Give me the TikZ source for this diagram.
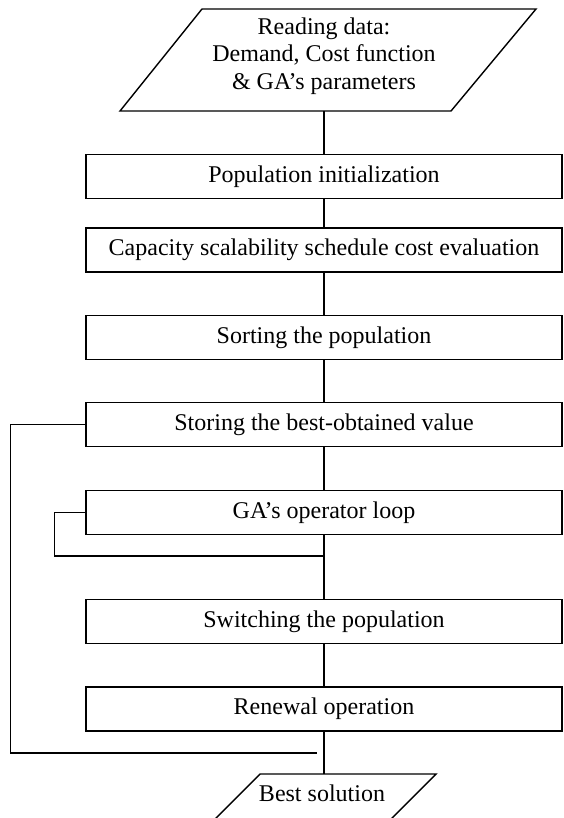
\documentclass[tikz,border=0pt]{standalone}
\usepackage{fontspec}
\setmainfont{Liberation Serif}
\usetikzlibrary{positioning, calc}
\tikzset{
    stepbox/.style={draw, line width=0.7pt, minimum width=238pt, minimum height=22pt, inner sep=0pt},
    link/.style={line width=0.6pt},
    iotext/.style={align=center, inner sep=0pt}
}

\begin{document}
\begin{tikzpicture}[x=0.5pt, y=-0.5pt, font=\fontsize{12}{13.75}\selectfont]
    \useasboundingbox (0,0) rectangle (563,818);
    % Input parallelogram
    \draw[line width=0.7pt] (120,111) -- (202,9) -- (536,9) -- (451,111) -- cycle;
    \node[iotext] (read) at (324,56) {Reading data:\\Demand, Cost function\\ \& GA’s parameters};
    \coordinate (readout) at (324,111);
    % Process steps
    \node[stepbox] (init) at (324,176.5) {Population initialization};
    \node[stepbox] (cost) at (324,250) {Capacity scalability schedule cost evaluation};
    \node[stepbox] (sort) at (324,337.5) {Sorting the population};
    \node[stepbox] (store) at (324,424.5) {Storing the best-obtained value};
    \node[stepbox] (gaop) at (324,512.5) {GA’s operator loop};
    \node[stepbox] (switch) at (324,621.5) {Switching the population};
    \node[stepbox] (renew) at (324,709) {Renewal operation};
    % Output parallelogram
    \draw[line width=0.7pt] (209,825) -- (260,774) -- (436,774) -- (385,825) -- cycle;
    \node[iotext] (best) at (322,793) {Best solution};
    \coordinate (bestin) at (324,774);
    % Loop ends
    \coordinate (inner) at (324,556);
    \coordinate (outer) at (317,753);
    % Connectors
    \draw[link] (readout) -- (init);
    \draw[link] (init) -- (cost);
    \draw[link] (cost) -- (sort);
    \draw[link] (sort) -- (store);
    \draw[link] (store) -- (gaop);
    \draw[link] (gaop) -- (switch);
    \draw[link] (switch) -- (renew);
    \draw[link] (renew) -- (bestin);
    \draw[link] (gaop.west) -- ++(-31,0) |- (inner);
    \draw[link] (store.west) -- ++(-75,0) |- (outer);
\end{tikzpicture}
\end{document}
